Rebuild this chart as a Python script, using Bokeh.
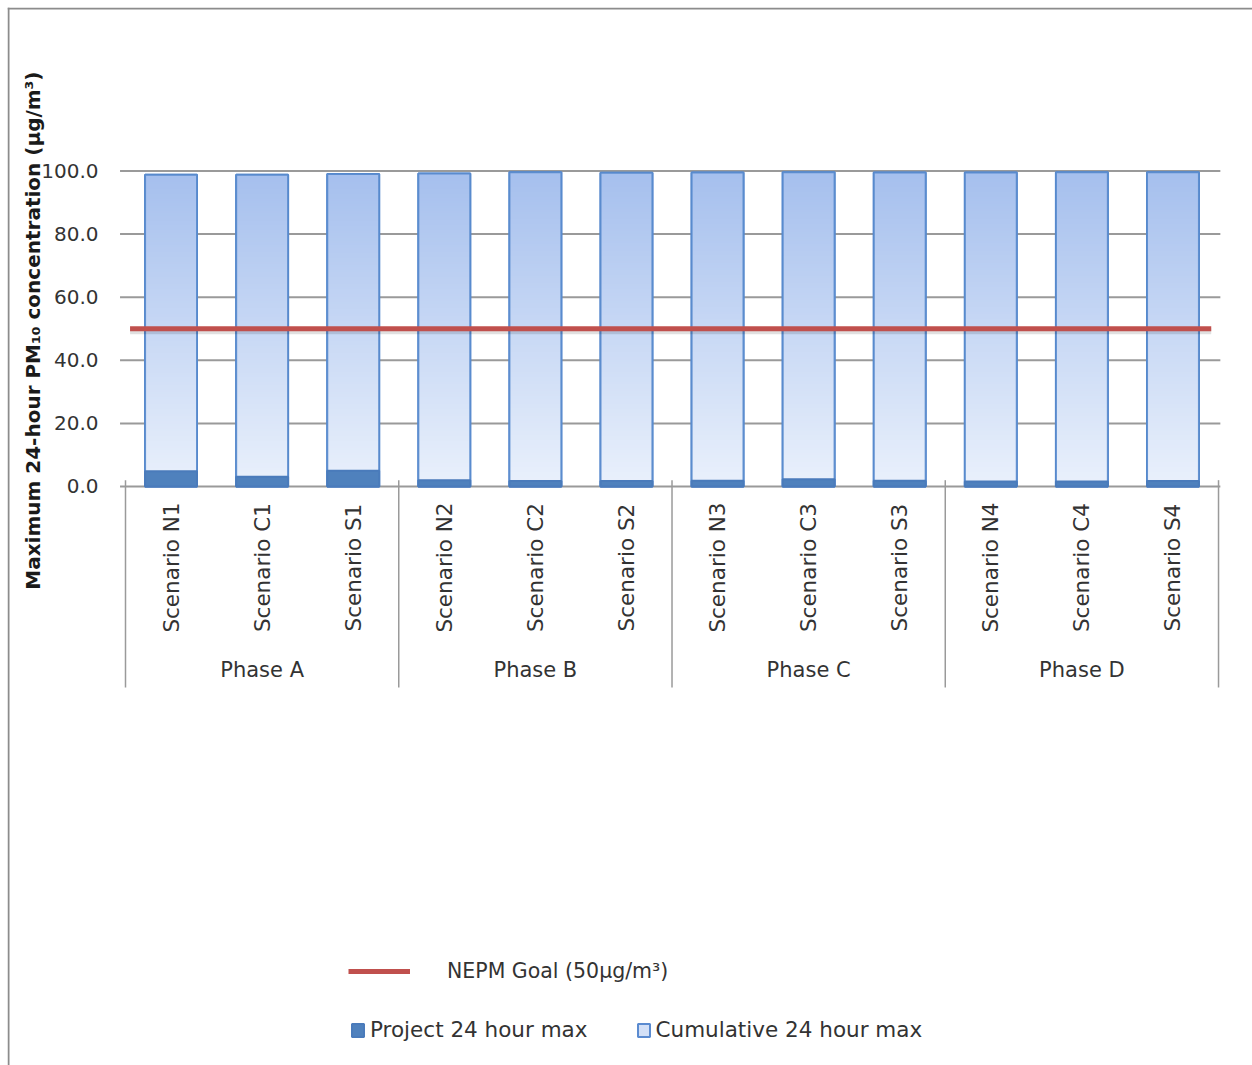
import numpy as np
from bokeh.plotting import figure
from bokeh.models import Range1d, Legend, LegendItem
from bokeh.core.properties import value
from bokeh.embed import file_html
from bokeh.resources import INLINE

# ---- data -------------------------------------------------------------
phases = ["Phase A", "Phase B", "Phase C", "Phase D"]
scenarios = ["Scenario N1", "Scenario C1", "Scenario S1",
             "Scenario N2", "Scenario C2", "Scenario S2",
             "Scenario N3", "Scenario C3", "Scenario S3",
             "Scenario N4", "Scenario C4", "Scenario S4"]
project_max = [4.8, 3.1, 5.0, 2.0, 1.7, 1.7, 1.8, 2.3, 1.8, 1.6, 1.6, 1.7]
cumulative_max = [98.8, 98.8, 99.0, 99.2, 99.6, 99.4, 99.5, 99.6, 99.5, 99.5, 99.6, 99.6]
nepm_goal = 50.0
y_ticks = [0, 20, 40, 60, 80, 100]
y_tick_labels = ["0.0", "20.0", "40.0", "60.0", "80.0", "100.0"]

n = len(scenarios)
per_phase = n // len(phases)
xc = np.arange(n) + 0.5
phase_centers = [(k + 0.5) * per_phase for k in range(len(phases))]
phase_edges = [k * per_phase for k in range(len(phases) + 1)]

FONT = value("DejaVu Sans")
TEXT = "#333333"
GRID = "#9a9a9a"
BORDER = "#8c8c8c"
BAR_W = 0.57

xr = Range1d(-1.2955, 12.373)
yr = Range1d(-183.5, 151.8)
p = figure(width=1252, height=1065, output_backend="svg", toolbar_location=None,
           x_range=xr, y_range=yr, x_axis_location=None, y_axis_location=None,
           min_border_left=7, min_border_top=7, min_border_right=0, min_border_bottom=0)
p.grid.visible = False
p.outline_line_color = None
p.background_fill_color = "white"

# chart-area border (left and top edges)
px_x = 1 / 91.08   # one pixel in x data units
px_y = 1 / 3.155   # one pixel in y data units
p.segment(x0=[xr.start + px_x, xr.start], x1=[xr.start + px_x, xr.end],
          y0=[yr.start, yr.end - px_y], y1=[yr.end, yr.end - px_y],
          line_color=BORDER, line_width=2)

# horizontal gridlines with outside tick marks
p.segment(x0=[-0.06] * len(y_ticks), x1=[n + 0.02] * len(y_ticks), y0=y_ticks, y1=y_ticks,
          line_color=GRID, line_width=2)
p.text(x=[-0.296] * len(y_ticks), y=y_ticks, text=y_tick_labels, text_font=FONT,
       text_font_size="20px", text_color=TEXT, text_align="right", text_baseline="middle")

# y-axis title
p.text(x=[-1.02], y=[(y_ticks[0] + y_ticks[-1]) / 2 + 1.6],
       text=["Maximum  24-hour PM\u2081\u2080 concentration  (\u00b5g/m\u00b3)"],
       angle=np.pi / 2, text_font=FONT, text_font_style="bold", text_font_size="20px",
       text_color="#1a1a1a", text_align="center", text_baseline="middle")

# cumulative bars: base fill + vertical gradient + outline
cum_r = p.vbar(x=xc, top=cumulative_max, bottom=0, width=BAR_W,
               fill_color="#d3e0f7", line_color="#5b8bd0", line_width=2)

top_rgb = np.array([0xa6, 0xc0, 0xee], dtype=float)
bot_rgb = np.array([0xea, 0xf1, 0xfc], dtype=float)
rows = 128
t = np.linspace(0, 1, rows)[:, None]
rgb = (bot_rgb * (1 - t) + top_rgb * t).astype(np.uint8)
grad = np.empty((rows, 1), dtype=np.uint32)
view = grad.view(dtype=np.uint8).reshape((rows, 1, 4))
view[:, 0, 0] = rgb[:, 0]
view[:, 0, 1] = rgb[:, 1]
view[:, 0, 2] = rgb[:, 2]
view[:, 0, 3] = 255
p.image_rgba(image=[grad] * n, x=list(xc - BAR_W / 2), y=[0] * n,
             dw=[BAR_W] * n, dh=list(cumulative_max))
p.vbar(x=xc, top=cumulative_max, bottom=0, width=BAR_W,
       fill_color=None, line_color="#5588cc", line_width=2, line_alpha=0.9)

# project bars
proj_r = p.vbar(x=xc, top=project_max, bottom=0, width=BAR_W,
                fill_color="#4f81bd", line_color="#4a7bbb", line_width=2)

# NEPM goal line with soft shadow
p.line(x=[0.05, n - 0.08], y=[nepm_goal - 0.8, nepm_goal - 0.8],
       line_color="#000000", line_alpha=0.12, line_width=6)
goal_r = p.line(x=[0.05, n - 0.08], y=[nepm_goal, nepm_goal],
                line_color="#c0504d", line_width=5)

# two-level category axis
p.segment(x0=phase_edges, x1=phase_edges, y0=[2] * len(phase_edges),
          y1=[-63.7] * len(phase_edges), line_color=GRID, line_width=1.5)
p.text(x=xc, y=[-25.7] * n, text=scenarios, angle=np.pi / 2, text_font=FONT,
       text_font_size="21.5px", text_color=TEXT, text_align="center", text_baseline="middle")
p.text(x=phase_centers, y=[-58.3] * len(phases), text=phases, text_font=FONT,
       text_font_size="21px", text_color=TEXT, text_align="center", text_baseline="middle")

# legends
leg1 = Legend(items=[LegendItem(label="NEPM Goal (50\u00b5g/m\u00b3)", renderers=[goal_r])],
              location=(341, 82), glyph_width=62, glyph_height=20, label_standoff=37,
              label_text_font_size="20.5px")
leg2 = Legend(items=[LegendItem(label="Project 24 hour max", renderers=[proj_r]),
                     LegendItem(label="Cumulative 24 hour max", renderers=[cum_r])],
              location=(343, 23), orientation="horizontal", glyph_width=15, glyph_height=16,
              label_standoff=5, spacing=48, label_text_font_size="21.5px")
for lg in (leg1, leg2):
    lg.label_text_font = "DejaVu Sans"
    lg.label_text_color = TEXT
    lg.padding = 0
    lg.margin = 0
    lg.border_line_color = None
    lg.background_fill_alpha = 0
    lg.label_height = 20
    p.add_layout(lg)

open("out.html", "w").write(file_html(p, INLINE))
